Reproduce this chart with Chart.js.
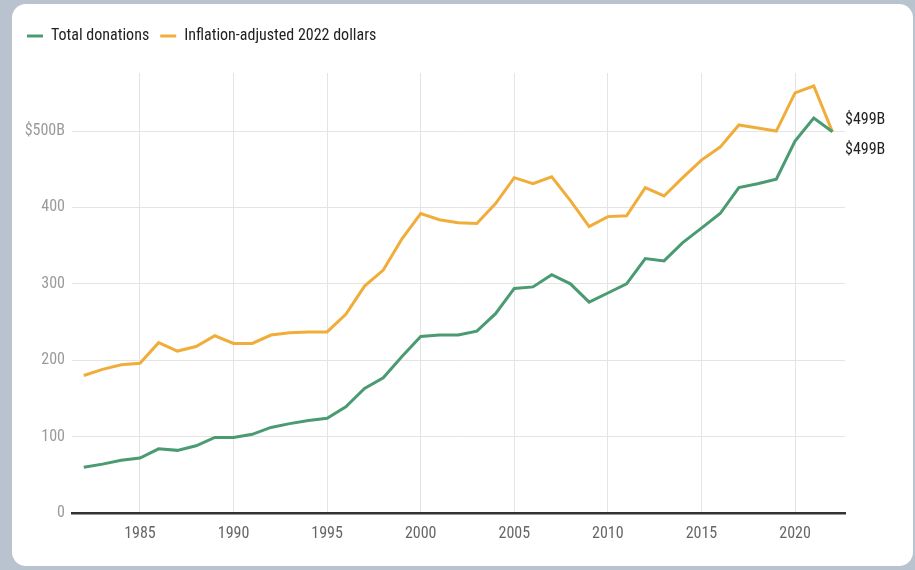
<!DOCTYPE html>
<html>
<head>
<meta charset="utf-8">
<script src="https://cdn.jsdelivr.net/npm/chart.js@4"></script>
<style>
  html, body { margin: 0; padding: 0; background: #b9c3cf; width: 915px; height: 570px; overflow: hidden; }
  #card { position: absolute; left: 12px; top: 4px; width: 901px; height: 562px; background: #fff; border-radius: 14px; overflow: hidden; }
  canvas { display: block; }
</style>
</head>
<body>
<div id="card"><canvas id="c" width="901" height="562"></canvas></div>
<script>
const years = [1982,1983,1984,1985,1986,1987,1988,1989,1990,1991,1992,1993,1994,1995,1996,1997,1998,1999,2000,2001,2002,2003,2004,2005,2006,2007,2008,2009,2010,2011,2012,2013,2014,2015,2016,2017,2018,2019,2020,2021,2022];
const totalDonations = [60,64,69,72,84,82,88,99,99,103,112,117,121,124,139,163,177,205,231,233,233,238,261,294,296,312,300,276,288,300,333,330,354,373,392,426,431,437,487,517,499];
const inflationAdjusted = [180,188,194,196,223,212,218,232,222,222,233,236,237,237,260,297,318,359,392,384,380,379,405,439,431,440,409,375,388,389,426,415,439,462,479,508,504,500,550,559,499];
const xTicks = [1985,1990,1995,2000,2005,2010,2015,2020];
const yTicks = [0,100,200,300,400,500];
const endLabels = ['$499B', '$499B'];

const FONT = "'Liberation Sans Narrow', 'Roboto Condensed', 'Arial Narrow', Roboto, sans-serif";
const GREEN = '#4a9a72';
const YELLOW = '#f0ad3a';

const legendMargin = {
  id: 'legendMargin',
  beforeInit(chart) {
    const fit = chart.legend.fit;
    chart.legend.fit = function () { fit.bind(chart.legend)(); this.height += 19; };
  }
};

const endLabelPlugin = {
  id: 'endLabels',
  afterDatasetsDraw(chart) {
    const ctx = chart.ctx;
    ctx.save();
    ctx.font = '16px ' + FONT;
    ctx.fillStyle = '#222';
    ctx.textAlign = 'left';
    ctx.textBaseline = 'middle';
    const offsets = [18, -12];
    chart.data.datasets.forEach((ds, i) => {
      const meta = chart.getDatasetMeta(i);
      const pt = meta.data[meta.data.length - 1];
      ctx.fillText(endLabels[i], chart.chartArea.right + 0, pt.y + offsets[i]);
    });
    ctx.restore();
  }
};

new Chart(document.getElementById('c'), {
  type: 'line',
  data: {
    datasets: [
      { label: 'Total donations', data: years.map((y, i) => ({x: y, y: totalDonations[i]})),
        borderColor: GREEN, backgroundColor: GREEN, borderWidth: 3, pointRadius: 0, tension: 0 },
      { label: 'Inflation-adjusted 2022 dollars', data: years.map((y, i) => ({x: y, y: inflationAdjusted[i]})),
        borderColor: YELLOW, backgroundColor: YELLOW, borderWidth: 3, pointRadius: 0, tension: 0 }
    ]
  },
  options: {
    responsive: false,
    animation: false,
    layout: { padding: { left: 4, right: 68, top: 13, bottom: 0 } },
    plugins: {
      legend: {
        position: 'top', align: 'start',
        labels: { usePointStyle: true, pointStyle: 'line', pointStyleWidth: 16, padding: 11,
                  color: '#222', font: { family: FONT, size: 16 } }
      },
      tooltip: { enabled: false }
    },
    scales: {
      x: {
        type: 'linear', min: 1981.37, max: 2022.67,
        afterBuildTicks(s) { s.ticks = xTicks.map(v => ({value: v})); },
        afterFit(s) { s.height = 53; },
        grid: { color: '#e4e4e4', lineWidth: 1, drawTicks: false },
        border: { display: true, color: '#333', width: 2.5 },
        ticks: { color: '#666', padding: 11, font: { family: FONT, size: 16 }, callback: v => String(v) }
      },
      y: {
        min: 0, max: 576,
        afterBuildTicks(s) { s.ticks = yTicks.map(v => ({value: v})); },
        afterFit(s) { s.width = 56; },
        grid: { color: '#e4e4e4', lineWidth: 1, drawTicks: false },
        border: { display: false },
        ticks: { color: '#9a9a9a', padding: 7, font: { family: FONT, size: 16 },
                 callback: v => v === 500 ? '$500B' : String(v) }
      }
    }
  },
  plugins: [legendMargin, endLabelPlugin]
});
</script>
</body>
</html>
